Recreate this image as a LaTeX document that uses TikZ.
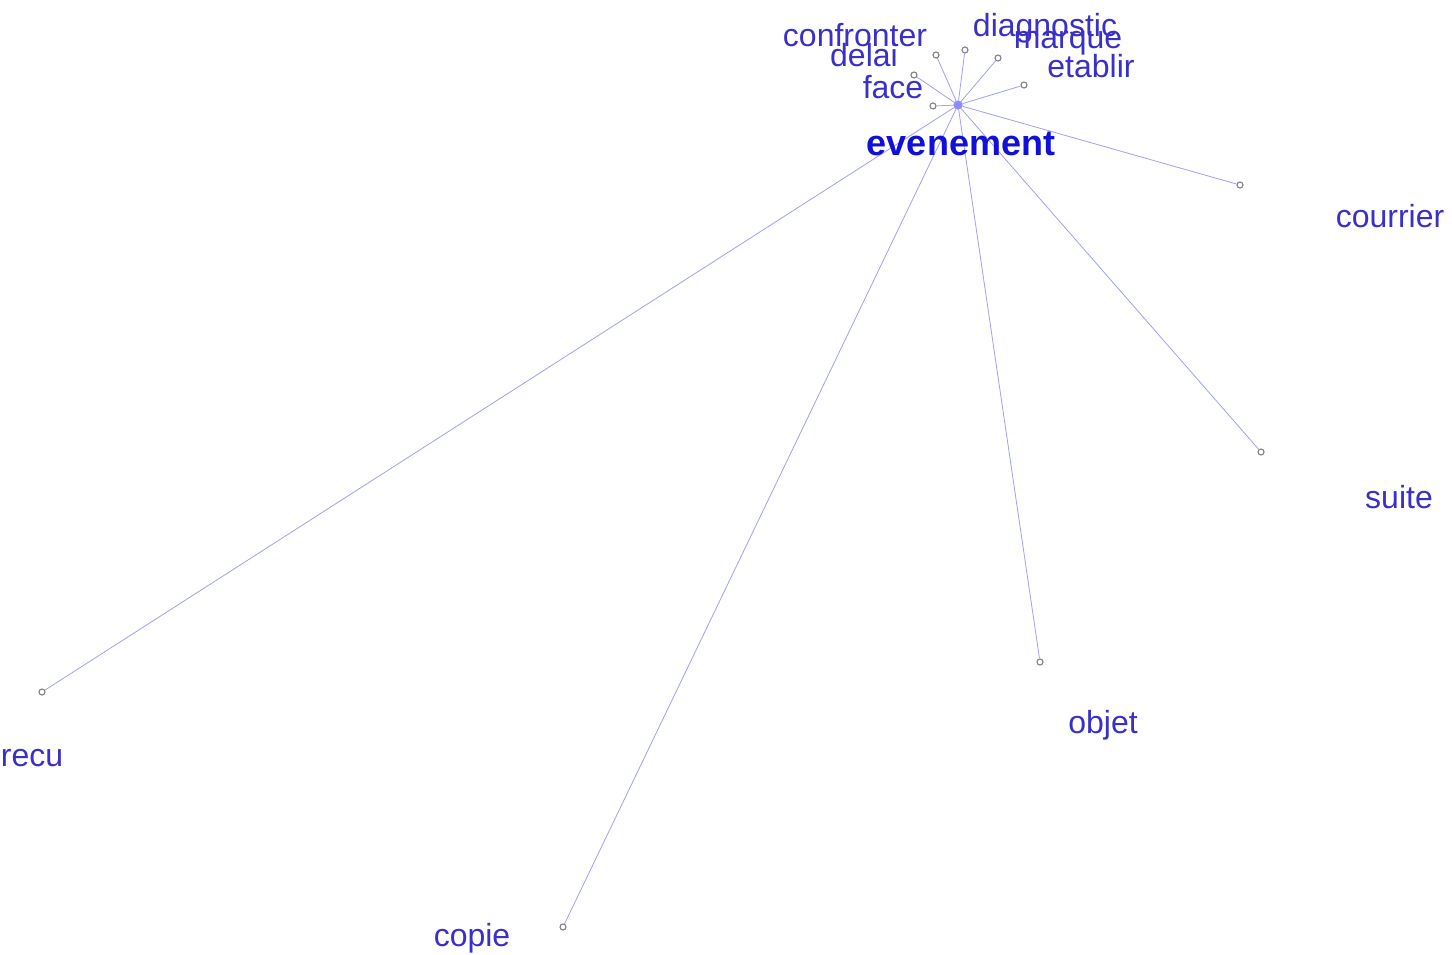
\documentclass[tikz,border=0pt]{standalone}
\usepackage{fontspec}
\setmainfont{Liberation Sans}
\definecolor{edgec}{HTML}{A0A0F0}
\definecolor{labc}{HTML}{3A30C8}
\definecolor{mainc}{HTML}{1010D8}
\definecolor{dotc}{HTML}{808080}
\definecolor{hubc}{HTML}{8C8CFF}
\begin{document}
\begin{tikzpicture}[x=1pt,y=-1pt,
  dot/.style={circle,draw=dotc,fill=white,line width=1.1pt,inner sep=0pt,minimum size=6pt},
  hub/.style={circle,fill=hubc,inner sep=0pt,minimum size=9pt},
  lab/.style={text=labc,font=\fontsize{32}{32}\selectfont,anchor=base,inner sep=0pt},
  edge/.style={draw=edgec,line width=0.8pt}]
\useasboundingbox (0,0) rectangle (1452,954);
\node[hub] (c) at (958,105) {};
\node[dot] (dconfronter) at (936,55) {};
\node[dot] (ddiagnostic) at (965,50) {};
\node[dot] (dmarque) at (998,58) {};
\node[dot] (detablir) at (1024,85) {};
\node[dot] (ddelai) at (914,75) {};
\node[dot] (dface) at (933,106) {};
\node[dot] (dcourrier) at (1240,185) {};
\node[dot] (dsuite) at (1261,452) {};
\node[dot] (dobjet) at (1040,662) {};
\node[dot] (drecu) at (42,692) {};
\node[dot] (dcopie) at (563,927) {};
\foreach \n in {dconfronter,ddiagnostic,dmarque,detablir,ddelai,dface,dcourrier,dsuite,dobjet,drecu,dcopie}
  \draw[edge] (c) -- (\n);
\node[hub] at (c) {};
\node[lab] (lconfronter) at (855,46) {confronter};
\node[lab] (ldelai) at (864,66) {delai};
\node[lab] (lface) at (893,98) {face};
\node[lab] (ldiagnostic) at (1045,36) {diagnostic};
\node[lab] (lmarque) at (1068,48) {marque};
\node[lab] (letablir) at (1091,77) {etablir};
\node[lab] (lcourrier) at (1390,227) {courrier};
\node[lab] (lsuite) at (1399,508) {suite};
\node[lab] (lobjet) at (1103,733) {objet};
\node[lab] (lrecu) at (32,766) {recu};
\node[lab] (lcopie) at (472,946) {copie};
\node[lab,text=mainc,font=\fontsize{36}{36}\selectfont\bfseries] (lev) at (961,155) {evenement};
\end{tikzpicture}
\end{document}
